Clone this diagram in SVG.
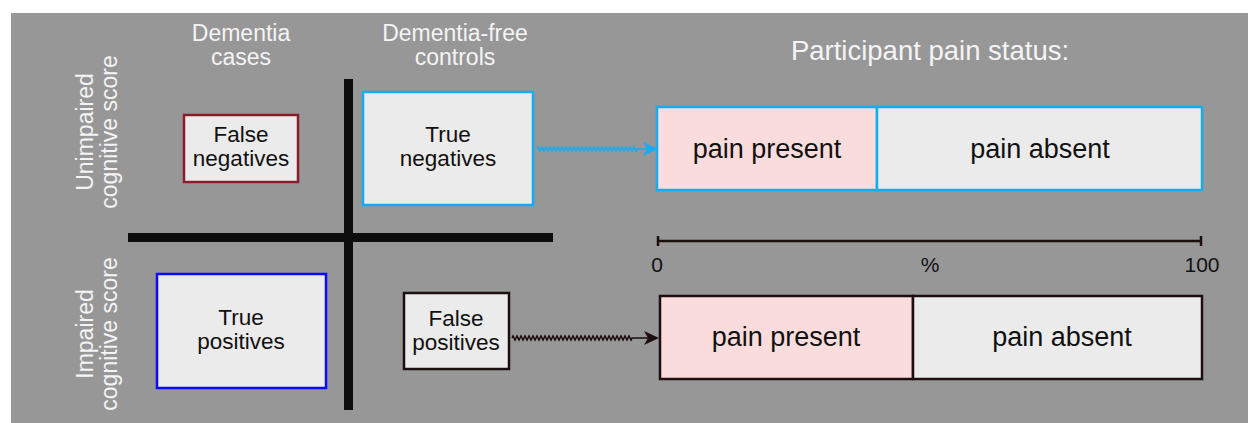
<svg xmlns="http://www.w3.org/2000/svg" width="1248" height="423" viewBox="0 0 1248 423">
<style>
text{font-family:"Liberation Sans",Arial,sans-serif}
.hdr{fill:#f4f4f4;font-size:23px;text-anchor:middle}
.ttl{fill:#f4f4f4;font-size:27.5px;text-anchor:middle}
.bt{fill:#111;font-size:22.5px;text-anchor:middle}
.pt{fill:#111;font-size:27px;text-anchor:middle}
.sc{fill:#111;font-size:21px;text-anchor:middle}
.box{fill:#ebebeb;stroke-width:2.5}
.bar{stroke-width:2.5}
.present{fill:#fadcdc}
.absent{fill:#ebebeb}
.blue{stroke:#12adf2}
.dark{stroke:#1d0f10}
.zig{fill:none;stroke-width:1.6}
.ahb{fill:#12adf2}
.ahd{fill:#1d0f10}
</style>
<rect x="11" y="13" width="1237" height="410" fill="#979797"/>

<g id="axes">
<rect x="344" y="79" width="9" height="331" fill="#0d0d0d"/>
<rect x="128" y="233" width="425" height="9" fill="#0d0d0d"/>
</g>

<g id="labels">
<text class="hdr" x="241" y="41">Dementia</text>
<text class="hdr" x="241" y="65">cases</text>
<text class="hdr" x="455" y="41">Dementia-free</text>
<text class="hdr" x="455" y="65">controls</text>
<text class="ttl" x="930" y="60">Participant pain status:</text>
<g transform="translate(93,132) rotate(-90)">
<text class="hdr" x="0" y="0">Unimpaired</text>
<text class="hdr" x="0" y="24">cognitive score</text>
</g>
<g transform="translate(93,334) rotate(-90)">
<text class="hdr" x="0" y="0">Impaired</text>
<text class="hdr" x="0" y="24">cognitive score</text>
</g>
</g>

<g id="false-negatives">
<rect class="box" x="184" y="115" width="114" height="67" stroke="#8a1c2c"/>
<text class="bt" x="241" y="142">False</text>
<text class="bt" x="241" y="166">negatives</text>
</g>

<g id="true-negatives">
<rect class="box blue" x="363" y="92" width="170" height="113" stroke-width="3"/>
<text class="bt" x="448" y="142">True</text>
<text class="bt" x="448" y="166">negatives</text>
</g>

<g id="true-positives">
<rect class="box" x="157" y="274" width="169" height="114" stroke="#0a0aff"/>
<text class="bt" x="241" y="325">True</text>
<text class="bt" x="241" y="349">positives</text>
</g>

<g id="false-positives">
<rect class="box dark" x="404" y="293" width="105" height="76" stroke-width="2"/>
<text class="bt" x="456" y="326">False</text>
<text class="bt" x="456" y="350">positives</text>
</g>

<g id="bar-top">
<rect class="bar present blue" x="657" y="107" width="220" height="83"/>
<rect class="bar absent blue" x="877" y="107" width="325" height="83"/>
<text class="pt" x="767" y="158">pain present</text>
<text class="pt" x="1040" y="158">pain absent</text>
</g>

<g id="bar-bottom">
<rect class="bar present dark" x="660" y="296" width="253" height="83"/>
<rect class="bar absent dark" x="913" y="296" width="289" height="83"/>
<text class="pt" x="786" y="346">pain present</text>
<text class="pt" x="1062" y="346">pain absent</text>
</g>

<g id="scale">
<path d="M658,241 H1201 M658,236 V246 M1201,236 V246" stroke="#1d0f10" stroke-width="2.5" fill="none"/>
<text class="sc" x="657" y="272">0</text>
<text class="sc" x="930" y="272">%</text>
<text class="sc" x="1202" y="272">100</text>
</g>

<g id="connectors">
<path class="zig blue" d="M537,149 l1,-2 l2,4 l1,-2 l1,-2 l2,4 l1,-2 l1,-2 l2,4 l1,-2 l1,-2 l2,4 l1,-2 l1,-2 l2,4 l1,-2 l1,-2 l2,4 l1,-2 l1,-2 l2,4 l1,-2 l1,-2 l2,4 l1,-2 l1,-2 l2,4 l1,-2 l1,-2 l2,4 l1,-2 l1,-2 l2,4 l1,-2 l1,-2 l2,4 l1,-2 l1,-2 l2,4 l1,-2 l1,-2 l2,4 l1,-2 l1,-2 l2,4 l1,-2 l1,-2 l2,4 l1,-2 l1,-2 l2,4 l1,-2 l1,-2 l2,4 l1,-2 l1,-2 l2,4 l1,-2 l1,-2 l2,4 l1,-2 l1,-2 l2,4 l1,-2 l1,-2 l2,4 l1,-2 l1,-2 l2,4 l1,-2 l1,-2 l2,4 l1,-2 l1,-2 l2,4 l1,-2 H648"/>
<path class="ahb" d="M643,142 L658,149 L643,156 L647,149 z"/>
<path class="zig dark" d="M512,338 l1,-2 l2,4 l1,-2 l1,-2 l2,4 l1,-2 l1,-2 l2,4 l1,-2 l1,-2 l2,4 l1,-2 l1,-2 l2,4 l1,-2 l1,-2 l2,4 l1,-2 l1,-2 l2,4 l1,-2 l1,-2 l2,4 l1,-2 l1,-2 l2,4 l1,-2 l1,-2 l2,4 l1,-2 l1,-2 l2,4 l1,-2 l1,-2 l2,4 l1,-2 l1,-2 l2,4 l1,-2 l1,-2 l2,4 l1,-2 l1,-2 l2,4 l1,-2 l1,-2 l2,4 l1,-2 l1,-2 l2,4 l1,-2 l1,-2 l2,4 l1,-2 l1,-2 l2,4 l1,-2 l1,-2 l2,4 l1,-2 l1,-2 l2,4 l1,-2 l1,-2 l2,4 l1,-2 l1,-2 l2,4 l1,-2 l1,-2 l2,4 l1,-2 l1,-2 l2,4 l1,-2 l1,-2 l2,4 l1,-2 l1,-2 l2,4 l1,-2 l1,-2 l2,4 l1,-2 l1,-2 l2,4 l1,-2 l1,-2 l2,4 l1,-2 H648"/>
<path class="ahd" d="M644,331 L659,338 L644,345 L648,338 z"/>
</g>
</svg>
